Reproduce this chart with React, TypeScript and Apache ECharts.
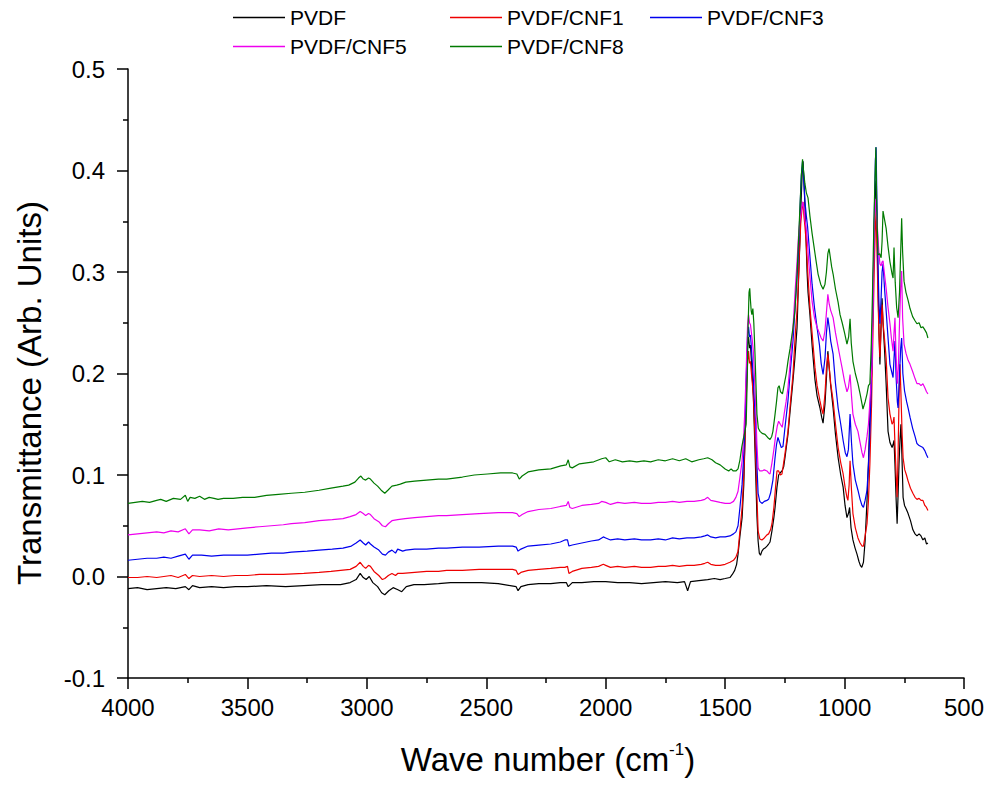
import React, { useEffect, useRef } from "react";
import * as echarts from "echarts";

const FONT = 'Arial, "Liberation Sans", sans-serif';

const seriesNames = ["PVDF", "PVDF/CNF1", "PVDF/CNF3", "PVDF/CNF5", "PVDF/CNF8"];
const seriesColors = ["#000000", "#ee0000", "#0000ee", "#ee00ee", "#007a00"];

const xTicks = { min: 500, max: 4000, interval: 500 };
const yTicks = { min: -0.1, max: 0.5, interval: 0.1 };

// [wave number (cm^-1), transmittance]
const pvdf: [number, number][] = [
  [4000,-0.012],[3960,-0.011],[3920,-0.013],[3880,-0.012],[3840,-0.011],[3800,-0.012],[3760,-0.010],[3745,-0.013],[3730,-0.009],[3700,-0.011],[3650,-0.010],[3600,-0.011],[3550,-0.010],[3500,-0.010],[3420,-0.009],[3340,-0.010],[3264,-0.009],[3190,-0.008],[3110,-0.008],[3070,-0.006],[3045,-0.003],[3028,0.003],[3015,-0.001],[3003,-0.003],[2990,0.000],[2975,-0.006],[2955,-0.010],[2938,-0.016],[2925,-0.018],[2908,-0.014],[2890,-0.011],[2870,-0.013],[2854,-0.015],[2835,-0.010],[2803,-0.008],[2760,-0.008],[2700,-0.007],[2650,-0.006],[2600,-0.006],[2520,-0.006],[2450,-0.007],[2400,-0.009],[2375,-0.010],[2367,-0.014],[2355,-0.010],[2325,-0.008],[2280,-0.007],[2230,-0.007],[2190,-0.006],[2165,-0.006],[2157,-0.010],[2140,-0.006],[2100,-0.006],[2050,-0.005],[2000,-0.005],[1950,-0.006],[1900,-0.006],[1850,-0.007],[1800,-0.006],[1750,-0.005],[1700,-0.006],[1670,-0.005],[1657,-0.014],[1645,-0.005],[1610,-0.004],[1573,-0.003],[1545,-0.002],[1521,-0.003],[1500,-0.002],
  [1480,-0.001],[1470,0.002],[1460,0.006],[1452,0.012],[1446,0.022],[1438,0.040],[1429,0.058],[1422,0.090],[1417,0.134],[1411,0.190],[1406,0.228],[1402,0.236],[1398,0.225],[1394,0.228],[1390,0.212],[1386,0.195],[1382,0.178],[1377,0.140],[1372,0.100],[1367,0.060],[1362,0.035],[1357,0.023],[1352,0.021],[1346,0.025],[1340,0.027],[1333,0.028],[1325,0.030],[1318,0.032],[1312,0.034],[1304,0.045],[1296,0.058],[1291,0.068],[1283,0.088],[1276,0.100],[1270,0.102],[1262,0.104],[1255,0.108],[1249,0.118],[1237,0.140],[1228,0.163],[1216,0.193],[1208,0.215],[1199,0.245],[1193,0.290],[1187,0.330],[1182,0.370],[1177,0.400],[1174,0.409],[1170,0.390],[1166,0.365],[1161,0.330],[1157,0.300],[1153,0.280],[1145,0.258],[1136,0.228],[1124,0.194],[1115,0.178],[1103,0.166],[1096,0.157],[1090,0.151],[1082,0.170],[1076,0.195],[1070,0.222],[1064,0.205],[1058,0.188],[1048,0.166],[1038,0.140],[1027,0.117],[1016,0.100],[1006,0.088],[998,0.070],[990,0.058],[984,0.062],[979,0.068],[973,0.048],[965,0.036],[956,0.028],[948,0.022],[940,0.015],[934,0.011],[928,0.009],[921,0.014],[914,0.035],[906,0.075],[900,0.111],[894,0.160],[887,0.200],[881,0.270],[876,0.340],[871,0.385],[868,0.390],[864,0.340],[860,0.290],[856,0.240],[852,0.209],[847,0.250],[843,0.274],[839,0.250],[833,0.225],[826,0.190],[818,0.143],[810,0.132],[801,0.127],[797,0.130],[793,0.134],[789,0.110],[784,0.075],[780,0.052],[776,0.080],[772,0.111],[768,0.135],[764,0.150],[760,0.120],[755,0.078],[749,0.070],[741,0.066],[734,0.062],[724,0.055],[714,0.046],[705,0.042],[697,0.040],[688,0.042],[680,0.040],[672,0.036],[664,0.038],[657,0.032],[651,0.033]
];

const pvdfCnf1: [number, number][] = [
  [4000,-0.001],[3960,-0.001],[3920,0.000],[3880,-0.001],[3850,0.000],[3820,0.001],[3790,-0.001],[3760,0.002],[3745,-0.002],[3730,0.001],[3700,0.000],[3650,0.001],[3600,0.000],[3550,0.001],[3500,0.001],[3450,0.002],[3400,0.002],[3350,0.002],[3264,0.003],[3200,0.004],[3150,0.005],[3110,0.006],[3070,0.007],[3045,0.010],[3028,0.014],[3015,0.010],[3005,0.008],[2993,0.011],[2985,0.010],[2970,0.005],[2950,0.001],[2935,-0.003],[2925,-0.002],[2910,0.001],[2895,0.003],[2880,0.001],[2871,0.003],[2850,0.003],[2800,0.004],[2750,0.005],[2700,0.005],[2666,0.006],[2600,0.006],[2530,0.007],[2450,0.007],[2390,0.007],[2375,0.006],[2367,0.002],[2355,0.004],[2325,0.006],[2280,0.007],[2230,0.008],[2190,0.009],[2171,0.009],[2160,0.010],[2154,0.003],[2140,0.005],[2100,0.008],[2060,0.009],[2030,0.010],[2010,0.012],[2000,0.011],[1980,0.009],[1950,0.010],[1920,0.009],[1880,0.010],[1850,0.009],[1812,0.009],[1780,0.010],[1750,0.010],[1720,0.011],[1692,0.010],[1660,0.011],[1630,0.011],[1600,0.012],[1585,0.013],[1573,0.014],[1560,0.012],[1540,0.011],[1521,0.011],[1500,0.012],
  [1480,0.014],[1465,0.016],[1455,0.019],[1446,0.025],[1438,0.045],[1429,0.068],[1422,0.100],[1417,0.134],[1411,0.180],[1406,0.212],[1402,0.222],[1398,0.210],[1394,0.212],[1390,0.200],[1386,0.190],[1382,0.178],[1377,0.150],[1372,0.120],[1367,0.080],[1362,0.045],[1355,0.037],[1346,0.036],[1336,0.038],[1325,0.041],[1318,0.042],[1310,0.046],[1304,0.052],[1296,0.068],[1289,0.088],[1283,0.104],[1276,0.104],[1269,0.100],[1262,0.101],[1250,0.120],[1237,0.143],[1228,0.168],[1216,0.199],[1206,0.240],[1199,0.262],[1195,0.281],[1189,0.320],[1183,0.350],[1177,0.365],[1174,0.369],[1170,0.355],[1166,0.345],[1161,0.330],[1153,0.295],[1145,0.265],[1136,0.240],[1124,0.206],[1115,0.188],[1103,0.173],[1096,0.165],[1090,0.160],[1082,0.180],[1076,0.205],[1070,0.219],[1064,0.205],[1058,0.190],[1048,0.173],[1038,0.150],[1027,0.127],[1016,0.112],[1006,0.101],[998,0.088],[990,0.078],[986,0.075],[981,0.090],[977,0.114],[971,0.085],[965,0.062],[955,0.048],[944,0.038],[935,0.033],[927,0.030],[921,0.030],[914,0.040],[906,0.052],[900,0.075],[894,0.111],[887,0.170],[881,0.242],[876,0.300],[871,0.345],[868,0.360],[864,0.320],[860,0.274],[856,0.240],[852,0.216],[847,0.245],[843,0.268],[839,0.250],[833,0.235],[826,0.215],[818,0.176],[810,0.160],[801,0.150],[797,0.152],[793,0.157],[789,0.130],[784,0.100],[780,0.078],[776,0.120],[772,0.175],[768,0.209],[764,0.180],[759,0.140],[755,0.117],[748,0.105],[741,0.100],[734,0.094],[724,0.087],[714,0.082],[705,0.078],[697,0.076],[688,0.077],[680,0.075],[672,0.075],[664,0.070],[657,0.068],[651,0.065]
];

const pvdfCnf3: [number, number][] = [
  [4000,0.016],[3960,0.017],[3920,0.018],[3880,0.018],[3850,0.019],[3820,0.018],[3790,0.020],[3760,0.022],[3745,0.017],[3730,0.021],[3692,0.021],[3650,0.020],[3600,0.021],[3550,0.021],[3500,0.021],[3450,0.022],[3400,0.023],[3350,0.023],[3316,0.024],[3250,0.025],[3200,0.026],[3145,0.027],[3100,0.028],[3065,0.030],[3045,0.033],[3028,0.036],[3015,0.033],[3005,0.031],[2993,0.034],[2985,0.032],[2970,0.029],[2950,0.026],[2935,0.022],[2922,0.021],[2910,0.024],[2895,0.026],[2880,0.023],[2871,0.027],[2850,0.025],[2837,0.026],[2800,0.027],[2750,0.027],[2700,0.028],[2666,0.028],[2600,0.029],[2530,0.029],[2450,0.030],[2390,0.030],[2375,0.029],[2367,0.025],[2355,0.027],[2325,0.030],[2280,0.031],[2230,0.032],[2190,0.034],[2171,0.036],[2160,0.036],[2154,0.030],[2140,0.031],[2100,0.033],[2060,0.035],[2030,0.036],[2010,0.039],[2000,0.038],[1980,0.036],[1950,0.037],[1920,0.036],[1880,0.037],[1850,0.036],[1812,0.036],[1780,0.037],[1750,0.036],[1720,0.038],[1692,0.037],[1660,0.038],[1630,0.038],[1600,0.039],[1585,0.040],[1573,0.041],[1560,0.039],[1540,0.038],[1521,0.039],[1500,0.039],
  [1480,0.040],[1465,0.042],[1455,0.044],[1446,0.050],[1438,0.068],[1429,0.091],[1422,0.120],[1417,0.150],[1411,0.200],[1406,0.238],[1402,0.246],[1398,0.236],[1394,0.238],[1390,0.225],[1386,0.210],[1382,0.195],[1377,0.170],[1372,0.150],[1367,0.110],[1362,0.082],[1355,0.074],[1346,0.072],[1336,0.074],[1325,0.075],[1318,0.076],[1310,0.082],[1300,0.095],[1292,0.115],[1285,0.130],[1279,0.137],[1272,0.132],[1265,0.127],[1258,0.128],[1248,0.150],[1237,0.173],[1228,0.200],[1216,0.232],[1206,0.270],[1199,0.295],[1193,0.320],[1187,0.360],[1181,0.395],[1176,0.409],[1172,0.395],[1166,0.370],[1160,0.355],[1155,0.345],[1145,0.315],[1136,0.288],[1126,0.265],[1115,0.245],[1105,0.228],[1098,0.210],[1090,0.199],[1082,0.215],[1076,0.240],[1070,0.255],[1064,0.245],[1058,0.232],[1048,0.219],[1038,0.190],[1027,0.166],[1016,0.150],[1006,0.134],[997,0.122],[990,0.118],[984,0.125],[977,0.160],[971,0.132],[965,0.111],[955,0.095],[944,0.085],[935,0.076],[927,0.070],[921,0.068],[914,0.075],[906,0.085],[900,0.110],[894,0.143],[887,0.200],[881,0.274],[876,0.350],[871,0.410],[868,0.423],[864,0.360],[860,0.308],[856,0.270],[852,0.249],[847,0.275],[843,0.300],[839,0.308],[833,0.285],[826,0.262],[818,0.235],[810,0.209],[801,0.200],[797,0.196],[793,0.215],[789,0.232],[784,0.195],[779,0.172],[776,0.166],[770,0.200],[765,0.225],[761,0.235],[756,0.200],[749,0.183],[740,0.172],[733,0.165],[726,0.157],[715,0.146],[705,0.138],[697,0.131],[688,0.129],[680,0.128],[672,0.127],[664,0.124],[657,0.120],[651,0.117]
];

const pvdfCnf5: [number, number][] = [
  [4000,0.041],[3960,0.042],[3920,0.043],[3880,0.044],[3850,0.043],[3820,0.045],[3790,0.044],[3760,0.047],[3745,0.042],[3730,0.046],[3700,0.046],[3660,0.045],[3620,0.047],[3580,0.046],[3540,0.047],[3500,0.048],[3450,0.049],[3400,0.050],[3350,0.051],[3316,0.052],[3260,0.053],[3200,0.055],[3145,0.056],[3100,0.057],[3070,0.059],[3045,0.061],[3028,0.064],[3015,0.062],[3005,0.060],[2993,0.062],[2985,0.061],[2970,0.057],[2950,0.054],[2935,0.050],[2922,0.049],[2910,0.052],[2895,0.055],[2871,0.056],[2840,0.057],[2800,0.058],[2750,0.059],[2700,0.060],[2666,0.060],[2600,0.061],[2530,0.062],[2450,0.063],[2390,0.063],[2372,0.062],[2362,0.059],[2350,0.061],[2325,0.064],[2280,0.066],[2230,0.067],[2190,0.069],[2165,0.070],[2157,0.074],[2150,0.068],[2140,0.067],[2100,0.070],[2060,0.071],[2030,0.072],[2017,0.074],[2000,0.073],[1980,0.071],[1950,0.073],[1920,0.072],[1880,0.073],[1850,0.072],[1812,0.072],[1780,0.073],[1750,0.073],[1720,0.074],[1692,0.073],[1660,0.074],[1630,0.074],[1600,0.075],[1585,0.076],[1573,0.078],[1560,0.075],[1540,0.074],[1521,0.073],[1500,0.072],
  [1480,0.072],[1465,0.074],[1455,0.078],[1446,0.084],[1438,0.098],[1429,0.114],[1422,0.140],[1417,0.166],[1411,0.210],[1406,0.248],[1402,0.258],[1398,0.250],[1394,0.248],[1390,0.240],[1386,0.232],[1382,0.222],[1377,0.195],[1372,0.166],[1367,0.130],[1362,0.107],[1355,0.104],[1346,0.104],[1336,0.105],[1325,0.104],[1318,0.102],[1312,0.101],[1304,0.112],[1296,0.125],[1289,0.138],[1282,0.148],[1276,0.153],[1269,0.150],[1261,0.147],[1253,0.160],[1245,0.172],[1237,0.186],[1228,0.210],[1216,0.245],[1206,0.285],[1199,0.310],[1193,0.335],[1187,0.350],[1180,0.362],[1175,0.369],[1170,0.362],[1165,0.350],[1158,0.337],[1150,0.310],[1143,0.290],[1136,0.271],[1126,0.255],[1116,0.246],[1106,0.240],[1098,0.235],[1090,0.232],[1082,0.242],[1076,0.260],[1070,0.278],[1064,0.268],[1058,0.262],[1048,0.255],[1038,0.240],[1027,0.226],[1019,0.216],[1010,0.205],[1000,0.192],[990,0.182],[984,0.186],[977,0.199],[971,0.178],[965,0.160],[955,0.150],[944,0.143],[935,0.132],[927,0.122],[921,0.117],[914,0.125],[906,0.138],[900,0.150],[892,0.180],[885,0.209],[880,0.280],[876,0.340],[872,0.372],[868,0.360],[864,0.350],[860,0.333],[856,0.318],[852,0.308],[847,0.306],[843,0.310],[839,0.311],[833,0.298],[826,0.284],[818,0.265],[810,0.249],[804,0.235],[797,0.222],[793,0.240],[789,0.255],[784,0.215],[779,0.190],[775,0.205],[770,0.250],[765,0.285],[761,0.301],[757,0.255],[751,0.229],[743,0.220],[734,0.213],[726,0.209],[715,0.202],[705,0.195],[697,0.190],[688,0.190],[680,0.188],[672,0.190],[664,0.186],[657,0.182],[651,0.180]
];

const pvdfCnf8: [number, number][] = [
  [4000,0.072],[3970,0.073],[3940,0.074],[3910,0.073],[3880,0.075],[3863,0.076],[3840,0.074],[3810,0.077],[3780,0.076],[3760,0.080],[3750,0.074],[3740,0.078],[3720,0.077],[3700,0.079],[3680,0.076],[3660,0.078],[3640,0.077],[3623,0.076],[3600,0.077],[3560,0.077],[3520,0.078],[3470,0.078],[3420,0.080],[3370,0.081],[3316,0.082],[3260,0.083],[3200,0.085],[3150,0.087],[3100,0.089],[3076,0.090],[3050,0.093],[3035,0.097],[3025,0.099],[3015,0.096],[3005,0.095],[2993,0.097],[2985,0.096],[2970,0.092],[2955,0.089],[2940,0.085],[2925,0.082],[2912,0.085],[2895,0.089],[2875,0.090],[2860,0.091],[2837,0.093],[2800,0.094],[2750,0.095],[2700,0.096],[2666,0.096],[2600,0.098],[2550,0.100],[2495,0.101],[2440,0.102],[2390,0.102],[2372,0.101],[2362,0.096],[2350,0.099],[2325,0.103],[2280,0.105],[2230,0.106],[2188,0.109],[2165,0.110],[2157,0.115],[2150,0.108],[2140,0.107],[2110,0.111],[2080,0.112],[2050,0.113],[2017,0.116],[2000,0.117],[1985,0.113],[1960,0.115],[1930,0.113],[1900,0.114],[1870,0.113],[1840,0.114],[1812,0.113],[1780,0.115],[1750,0.114],[1720,0.116],[1692,0.114],[1665,0.116],[1640,0.113],[1610,0.115],[1590,0.116],[1573,0.117],[1555,0.115],[1540,0.112],[1521,0.110],[1500,0.106],
  [1485,0.104],[1475,0.106],[1466,0.104],[1455,0.104],[1446,0.106],[1438,0.115],[1430,0.128],[1425,0.134],[1418,0.142],[1412,0.150],[1407,0.200],[1404,0.245],[1400,0.280],[1397,0.284],[1394,0.272],[1391,0.262],[1388,0.258],[1384,0.264],[1380,0.250],[1375,0.219],[1371,0.190],[1367,0.160],[1361,0.146],[1354,0.143],[1345,0.141],[1333,0.140],[1322,0.137],[1312,0.135],[1305,0.138],[1300,0.143],[1292,0.158],[1285,0.172],[1279,0.186],[1274,0.188],[1268,0.182],[1260,0.180],[1252,0.190],[1244,0.200],[1237,0.212],[1228,0.225],[1216,0.245],[1208,0.262],[1199,0.298],[1193,0.330],[1187,0.363],[1181,0.395],[1176,0.411],[1172,0.400],[1166,0.387],[1160,0.378],[1153,0.373],[1145,0.355],[1136,0.338],[1128,0.325],[1120,0.312],[1111,0.298],[1100,0.288],[1090,0.283],[1082,0.288],[1076,0.300],[1070,0.318],[1065,0.323],[1060,0.315],[1054,0.305],[1048,0.298],[1038,0.283],[1027,0.270],[1019,0.258],[1010,0.250],[1000,0.240],[990,0.229],[983,0.236],[977,0.254],[972,0.230],[965,0.212],[955,0.200],[944,0.190],[935,0.180],[927,0.170],[923,0.165],[914,0.172],[906,0.180],[900,0.188],[894,0.190],[888,0.230],[883,0.280],[878,0.340],[873,0.390],[869,0.423],[865,0.360],[860,0.317],[853,0.318],[847,0.314],[843,0.330],[839,0.360],[833,0.352],[826,0.343],[818,0.325],[810,0.310],[801,0.298],[797,0.294],[793,0.324],[788,0.290],[782,0.265],[776,0.255],[770,0.280],[765,0.320],[761,0.353],[757,0.320],[751,0.291],[743,0.280],[734,0.272],[726,0.264],[715,0.256],[705,0.252],[697,0.249],[688,0.250],[680,0.245],[672,0.246],[664,0.243],[657,0.240],[651,0.235]
];

const seriesData = [pvdf, pvdfCnf1, pvdfCnf3, pvdfCnf5, pvdfCnf8];

const legendSlots = [
  { left: 233, top: 7 },
  { left: 450, top: 7 },
  { left: 650, top: 7 },
  { left: 233, top: 36 },
  { left: 450, top: 36 },
];

export default function App() {
  const ref = useRef<HTMLDivElement>(null);
  useEffect(() => {
    if (!ref.current) return;
    const chart = echarts.init(ref.current, null, { renderer: "svg" });
    const axisCommon = {
      axisLine: { show: true, onZero: false, lineStyle: { color: "#000", width: 1.5 } },
      axisTick: { show: true, inside: false, length: 11, lineStyle: { color: "#000", width: 1.5 } },
      minorTick: { show: true, splitNumber: 2, length: 5, lineStyle: { color: "#000", width: 1.5 } },
      splitLine: { show: false },
      minorSplitLine: { show: false },
    };
    chart.setOption({
      animation: false,
      backgroundColor: "#ffffff",
      color: seriesColors,
      grid: { left: 128, right: 25, top: 69, bottom: 109 },
      legend: seriesNames.map((name, i) => ({
        data: [name],
        left: legendSlots[i].left,
        top: legendSlots[i].top,
        icon: "rect",
        itemWidth: 52,
        itemHeight: 1.5,
        padding: 0,
        itemGap: 0,
        selectedMode: false,
        textStyle: { fontSize: 21, fontFamily: FONT, color: "#000" },
      })),
      xAxis: {
        type: "value",
        inverse: true,
        min: xTicks.min,
        max: xTicks.max,
        interval: xTicks.interval,
        ...axisCommon,
        axisLabel: {
          fontSize: 24,
          fontFamily: FONT,
          color: "#000",
          margin: 17,
          formatter: (v: number) => String(Math.round(v)),
        },
      },
      yAxis: {
        type: "value",
        min: yTicks.min,
        max: yTicks.max,
        interval: yTicks.interval,
        ...axisCommon,
        axisLabel: {
          fontSize: 24,
          fontFamily: FONT,
          color: "#000",
          margin: 23,
          formatter: (v: number) => v.toFixed(1),
        },
      },
      graphic: [
        {
          type: "text",
          x: 29,
          y: 393,
          rotation: Math.PI / 2,
          style: {
            text: "Transmittance (Arb. Units)",
            fontSize: 33,
            fontFamily: FONT,
            fill: "#000",
            align: "center",
            verticalAlign: "middle",
          },
        },
        {
          type: "text",
          x: 548,
          y: 759,
          style: {
            text: "{a|Wave number (cm}{b|-1}{a|)}",
            align: "center",
            verticalAlign: "middle",
            fill: "#000",
            rich: {
              a: { fontSize: 33, fontFamily: FONT, fill: "#000", lineHeight: 36 },
              b: { fontSize: 17, fontFamily: FONT, fill: "#000", verticalAlign: "top", lineHeight: 20 },
            },
          },
        },
      ],
      series: seriesNames.map((name, i) => ({
        name,
        type: "line",
        data: seriesData[i],
        symbol: "none",
        showSymbol: false,
        lineStyle: { width: 1.2, color: seriesColors[i] },
        itemStyle: { color: seriesColors[i] },
        z: 2 + i,
      })),
    });
    return () => chart.dispose();
  }, []);
  return (
    <div
      ref={ref}
      style={{ position: "fixed", left: 0, top: 0, width: 989, height: 787 }}
    />
  );
}
